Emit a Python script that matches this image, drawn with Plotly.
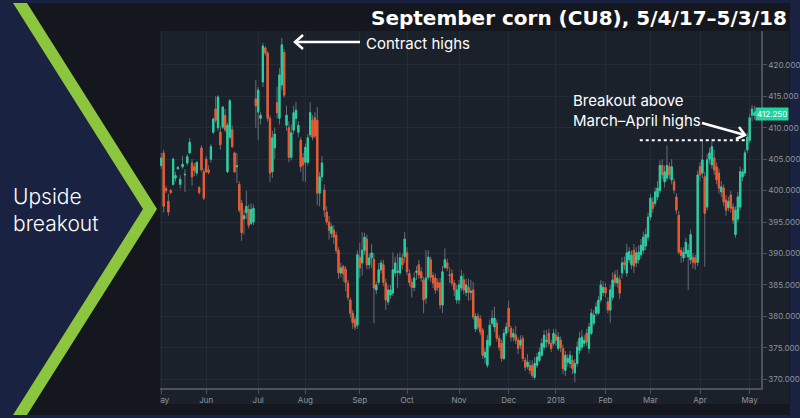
import plotly.graph_objects as go

# daily candles (open, high, low, close), September corn CU8, cents/bu
may_2017 = [
    (404.0, 406.0, 403.5, 405.2), (406.0, 406.5, 396.5, 397.5), (400.3, 400.8, 399.6, 400.0),
    (398.3, 399.5, 396.0, 396.6), (400.0, 400.3, 399.4, 399.7), (401.0, 405.3, 400.8, 405.0),
    (402.0, 403.0, 401.5, 402.4), (403.5, 403.9, 403.3, 403.7), (401.0, 402.5, 400.3, 401.8),
    (403.8, 405.5, 403.5, 404.2), (402.5, 403.4, 399.8, 402.6), (404.4, 405.8, 404.0, 405.4),
    (406.0, 408.4, 405.8, 407.7), (404.4, 405.0, 400.8, 402.2), (403.8, 404.4, 402.3, 403.2),
    (402.8, 404.7, 402.4, 404.5), (400.5, 400.7, 399.4, 399.7), (406.8, 407.2, 403.0, 403.3),
    (403.0, 403.5, 398.5, 398.8),
]
jun_2017 = [
    (405.0, 405.5, 402.8, 403.0), (403.3, 404.0, 402.6, 402.9), (405.0, 407.4, 404.5, 407.0),
    (409.3, 411.6, 409.0, 411.4), (413.0, 415.0, 410.8, 411.2), (410.0, 415.2, 409.5, 414.9),
    (409.3, 410.2, 406.5, 407.3), (410.1, 413.5, 409.8, 413.3), (412.0, 413.0, 409.3, 409.7),
    (403.0, 410.8, 402.8, 410.4), (408.5, 414.6, 408.2, 414.3), (409.7, 410.4, 406.8, 407.0),
    (406.0, 406.2, 402.8, 403.0), (403.8, 406.0, 401.2, 404.0), (401.0, 401.5, 396.5, 396.9),
    (398.0, 398.5, 392.0, 393.3), (395.5, 397.0, 393.0, 396.0), (396.5, 400.0, 395.5, 397.5),
    (397.0, 397.8, 394.0, 394.5), (394.8, 398.0, 394.5, 397.0), (395.0, 397.8, 394.5, 397.2),
    (414.6, 417.6, 410.0, 413.5),
]
jul_2017 = [
    (412.5, 416.5, 408.0, 416.0), (411.5, 412.5, 410.5, 412.0), (417.3, 423.5, 416.5, 423.0),
    (422.7, 423.0, 421.5, 421.9), (421.9, 422.2, 411.0, 411.5), (411.5, 412.0, 401.4, 402.8),
    (403.0, 409.5, 402.0, 408.4), (406.8, 410.0, 405.0, 409.0), (414.0, 416.5, 411.5, 412.4),
    (411.5, 419.5, 410.5, 418.4), (416.8, 424.3, 416.0, 423.2), (422.0, 422.5, 414.8, 415.2),
    (410.4, 413.5, 409.5, 412.0), (410.0, 411.0, 404.5, 405.3), (405.3, 410.5, 404.8, 409.2),
    (409.6, 413.5, 409.0, 412.4), (411.5, 414.1, 410.5, 412.8), (409.3, 411.0, 408.5, 410.4),
    (408.0, 408.5, 403.0, 403.8), (405.2, 406.0, 401.5, 404.1),
]
aug_2017 = [
    (404.5, 407.5, 401.4, 406.9), (404.5, 409.0, 404.0, 408.4), (408.9, 414.1, 408.5, 412.4),
    (411.2, 412.0, 408.0, 408.5), (411.6, 412.5, 408.3, 408.7), (411.2, 413.3, 397.7, 399.6),
    (399.6, 403.0, 397.5, 402.2), (402.2, 405.5, 401.5, 404.4), (400.1, 401.0, 395.8, 396.9),
    (396.6, 397.5, 394.5, 395.0), (395.0, 396.0, 392.2, 393.7), (393.2, 394.8, 392.5, 394.3),
    (393.7, 394.5, 391.5, 392.6), (392.9, 393.5, 390.0, 390.5), (390.5, 391.0, 386.0, 386.9),
    (386.9, 388.5, 386.2, 387.7), (387.9, 388.2, 385.5, 386.8), (387.5, 388.0, 384.0, 385.4),
    (385.3, 385.8, 382.5, 383.0), (382.6, 383.0, 379.8, 380.5), (380.5, 381.0, 378.0, 379.0),
    (379.5, 380.0, 377.8, 378.3), (378.6, 390.5, 378.0, 389.8),
]
sep_2017 = [
    (389.4, 391.7, 386.1, 387.7), (388.5, 393.4, 386.5, 390.5), (390.5, 393.3, 389.8, 392.6),
    (392.3, 393.0, 387.5, 388.2), (388.2, 390.0, 387.5, 389.3), (389.3, 391.5, 387.7, 390.1),
    (389.1, 390.1, 378.9, 384.5), (384.2, 385.5, 383.5, 385.0), (385.4, 388.5, 385.0, 387.4),
    (387.4, 389.0, 386.8, 388.5), (388.2, 389.0, 384.8, 385.4), (385.3, 386.0, 381.0, 382.6),
    (382.3, 385.0, 381.8, 384.2), (383.4, 385.0, 382.8, 384.2), (383.7, 390.2, 383.2, 387.4),
    (386.9, 389.5, 386.3, 388.5), (387.0, 390.0, 384.5, 387.2), (386.9, 390.2, 386.5, 389.3),
    (389.3, 390.0, 387.5, 388.2), (389.5, 393.4, 388.5, 392.3),
]
oct_2017 = [
    (390.1, 391.0, 386.5, 387.1), (386.8, 387.5, 384.8, 385.4), (385.4, 386.0, 383.0, 384.6),
    (384.6, 387.0, 384.0, 386.1), (387.0, 388.0, 385.8, 387.2), (388.2, 389.0, 386.0, 386.6),
    (387.1, 387.8, 385.5, 386.1), (385.8, 386.3, 380.5, 382.6), (382.9, 390.5, 382.0, 386.1),
    (386.2, 390.5, 385.8, 389.4), (389.0, 389.5, 385.5, 386.2), (386.5, 387.0, 384.5, 385.3),
    (386.1, 386.8, 383.6, 384.2), (385.4, 386.0, 384.0, 384.6), (385.3, 386.1, 381.2, 381.8),
    (381.8, 388.0, 380.5, 387.1), (387.8, 390.8, 387.5, 389.0), (388.5, 389.2, 387.2, 387.7),
    (386.6, 387.8, 385.3, 386.5), (386.8, 387.5, 384.8, 385.3), (385.3, 385.8, 383.2, 384.2),
    (382.6, 385.0, 382.0, 384.2),
]
nov_2017 = [
    (382.6, 385.8, 382.0, 385.0), (384.5, 387.4, 384.0, 386.4), (385.8, 386.8, 383.5, 384.2),
    (383.8, 386.0, 383.2, 385.0), (384.6, 386.0, 382.5, 383.8), (383.8, 385.8, 382.6, 384.0),
    (384.2, 385.5, 379.5, 379.9), (378.0, 380.5, 377.5, 380.0), (380.0, 380.5, 377.8, 378.3),
    (379.6, 380.2, 377.0, 377.5), (377.8, 378.2, 373.2, 373.8), (373.5, 375.0, 372.5, 374.3),
    (372.2, 377.0, 371.8, 376.2), (375.4, 379.5, 375.0, 378.6), (378.9, 381.0, 378.5, 379.7),
    (378.3, 381.5, 377.5, 379.7), (378.9, 379.5, 376.0, 376.5), (376.5, 377.0, 374.5, 375.1),
    (375.7, 376.3, 372.8, 373.3), (373.3, 378.0, 373.0, 377.3), (377.3, 379.0, 376.8, 378.3),
]
dec_2017 = [
    (381.3, 382.5, 377.5, 378.3), (378.1, 378.5, 376.0, 376.7), (376.7, 378.0, 376.0, 377.3),
    (377.0, 378.5, 375.6, 376.2), (376.2, 376.7, 374.0, 374.9), (375.4, 377.0, 374.8, 376.2),
    (376.5, 377.0, 372.8, 373.3), (373.0, 373.5, 371.3, 371.9), (372.0, 374.0, 371.6, 372.7),
    (372.2, 373.0, 370.8, 371.4), (372.2, 373.0, 370.2, 370.6), (370.3, 373.5, 369.9, 372.5),
    (372.2, 374.2, 371.8, 373.5), (373.0, 375.0, 372.7, 374.3), (373.8, 376.5, 373.5, 375.7),
    (375.1, 377.8, 374.6, 377.0), (376.0, 377.8, 375.0, 376.2), (377.3, 378.0, 375.2, 375.7),
    (375.7, 376.3, 374.3, 374.9), (375.7, 378.0, 375.3, 377.3),
]
jan_2018 = [
    (377.0, 378.0, 375.3, 376.2), (374.9, 377.5, 374.5, 376.7), (376.2, 376.8, 374.3, 375.0),
    (374.9, 375.5, 370.8, 371.7), (371.4, 374.5, 370.5, 373.8), (372.7, 374.0, 372.0, 373.3),
    (372.5, 374.5, 371.8, 373.8), (373.0, 373.8, 370.8, 371.7), (371.0, 373.2, 369.5, 372.5),
    (372.5, 376.0, 372.0, 375.1), (374.6, 377.5, 374.0, 376.5), (375.1, 377.8, 374.6, 376.7),
    (375.7, 377.0, 375.2, 376.2), (377.3, 378.0, 375.3, 375.9), (374.9, 379.0, 374.1, 378.3),
    (377.3, 381.2, 377.0, 380.5), (378.9, 381.0, 378.5, 380.2), (380.5, 382.3, 380.0, 381.5),
    (380.5, 383.2, 380.2, 382.6), (382.6, 385.8, 382.2, 385.0), (383.8, 385.6, 383.2, 384.6),
]
feb_2018 = [
    (384.6, 385.3, 383.0, 383.7), (382.3, 383.0, 380.5, 381.0), (381.0, 385.0, 379.0, 384.2),
    (383.0, 387.0, 382.5, 385.8), (386.6, 387.3, 384.8, 385.4), (385.3, 387.4, 384.6, 386.1),
    (385.8, 386.5, 382.8, 383.7), (386.9, 389.4, 386.0, 388.5), (388.6, 389.5, 387.4, 388.2),
    (386.9, 391.5, 386.3, 390.1), (389.0, 391.0, 388.5, 390.3), (388.2, 390.5, 387.5, 389.7),
    (390.5, 391.5, 386.9, 388.0), (388.5, 391.0, 387.8, 390.1), (389.0, 391.3, 388.4, 390.2),
    (389.8, 392.3, 389.2, 391.3), (390.5, 393.5, 390.0, 392.6), (391.2, 394.0, 390.5, 393.0),
    (392.6, 396.5, 392.0, 395.8),
]
mar_2018 = [
    (395.8, 399.5, 395.3, 398.8), (398.2, 399.0, 396.5, 397.2), (398.0, 400.5, 397.5, 399.8),
    (399.0, 401.5, 398.5, 400.4), (400.0, 404.8, 399.5, 404.0), (404.0, 405.0, 401.8, 402.5),
    (401.4, 404.0, 400.5, 403.0), (402.0, 407.2, 401.5, 404.0), (403.8, 404.5, 401.8, 402.5),
    (401.7, 405.0, 401.0, 403.8), (401.4, 402.0, 399.5, 400.1), (399.0, 399.6, 396.3, 396.9),
    (396.1, 396.8, 389.8, 390.2), (390.5, 391.0, 388.5, 389.7), (389.3, 391.0, 388.7, 390.2),
    (390.0, 392.5, 389.3, 391.8), (389.5, 391.5, 384.2, 390.5), (389.0, 393.8, 388.3, 393.0),
    (389.4, 390.1, 387.6, 388.6), (389.3, 389.8, 387.4, 388.5), (388.6, 403.2, 388.0, 402.5),
]
apr_2018 = [
    (403.8, 404.5, 401.5, 402.5), (402.8, 408.0, 402.0, 404.9), (402.2, 403.0, 387.9, 396.4),
    (397.4, 405.8, 396.8, 404.9), (405.0, 406.8, 404.3, 406.0), (404.1, 408.2, 403.5, 407.0),
    (405.2, 406.5, 402.5, 403.3), (403.8, 404.5, 401.0, 401.7), (402.8, 403.5, 399.5, 400.4),
    (399.8, 401.5, 399.0, 400.6), (400.4, 401.0, 397.5, 398.2), (398.5, 399.3, 396.0, 396.9),
    (397.3, 399.0, 396.7, 398.3), (399.3, 400.0, 396.5, 397.2), (397.4, 398.0, 394.7, 395.3),
    (393.0, 397.5, 392.5, 396.9), (395.5, 399.8, 395.0, 399.0), (397.4, 403.8, 396.8, 403.0),
    (402.2, 403.5, 401.5, 403.0), (402.8, 406.5, 402.3, 406.0), (406.5, 409.2, 406.0, 408.5),
]
may_2018 = [
    (408.0, 412.2, 407.6, 411.6), (412.0, 413.6, 411.0, 413.0), (412.0, 413.5, 411.3, 412.25),
]

months = [may_2017, jun_2017, jul_2017, aug_2017, sep_2017, oct_2017, nov_2017,
          dec_2017, jan_2018, feb_2018, mar_2018, apr_2018, may_2018]
month_labels = ['May', 'Jun', 'Jul', 'Aug', 'Sep', 'Oct', 'Nov', 'Dec', '2018',
                'Feb', 'Mar', 'Apr', 'May']
y_ticks = [370, 375, 380, 385, 390, 395, 400, 405, 410, 415, 420]
breakout_level = 408.0
last_price = 412.25

candles = [c for m in months for c in m]
opens = [c[0] for c in candles]
highs = [c[1] for c in candles]
lows = [c[2] for c in candles]
closes = [c[3] for c in candles]
xs = list(range(len(candles)))
body_hi = [max(o, c) for o, c in zip(opens, closes)]
body_lo = [min(o, c) for o, c in zip(opens, closes)]

tick_pos = []
n = 0
for m in months:
    tick_pos.append(n)
    n += len(m)

NAVY = '#1a2241'
DARK = '#14171e'
PANEL = '#1a212b'
LIME = '#8cc63f'
UP = '#22d3a0'
DOWN = '#f0582b'
WICK = '#676d76'
AXIS = '#4d535c'
TXT = '#8e949c'

W, H = 800, 418
ML, MR, MT, MB = 160, 39, 31, 30
PW, PH = W - ML - MR, H - MT - MB


def px(x):
    return (x - ML) / PW


def py(y):
    return (H - MB - y) / PH


def path(points):
    return 'M ' + ' L '.join(f'{px(a):.5f},{py(b):.5f}' for a, b in points) + ' Z'


def openpath(points):
    return 'M ' + ' L '.join(f'{px(a):.5f},{py(b):.5f}' for a, b in points)


fig = go.Figure()

# grey wicks
fig.add_trace(go.Candlestick(
    x=xs, open=opens, high=highs, low=lows, close=closes,
    increasing=dict(line=dict(color=WICK, width=1), fillcolor=WICK),
    decreasing=dict(line=dict(color=WICK, width=1), fillcolor=WICK),
    whiskerwidth=0, hoverinfo='skip', showlegend=False
))
# coloured bodies
fig.add_trace(go.Candlestick(
    x=xs, open=opens, high=body_hi, low=body_lo, close=closes,
    increasing=dict(line=dict(color=UP, width=1), fillcolor=UP),
    decreasing=dict(line=dict(color=DOWN, width=1), fillcolor=DOWN),
    whiskerwidth=0, showlegend=False
))

shapes = [
    dict(type='rect', xref='paper', yref='paper', x0=px(0), x1=px(790), y0=py(415), y1=py(3),
         fillcolor=DARK, line_width=0, layer='below'),
    dict(type='path', xref='paper', yref='paper', layer='below', fillcolor=NAVY, line_width=0,
         path=path([(0, 3), (13, 3), (143, 209), (13, 415), (0, 415)])),
    dict(type='path', xref='paper', yref='paper', layer='below', fillcolor=LIME, line_width=0,
         path=path([(13, 3), (27, 3), (157, 209), (27, 415), (13, 415), (143, 209)])),
    dict(type='rect', xref='paper', yref='paper', x0=px(160), x1=px(789), y0=py(404), y1=py(31),
         fillcolor=PANEL, line_width=0, layer='below'),
    # hide the left half of the first month label
    dict(type='rect', xref='paper', yref='paper', x0=px(146), x1=px(160), y0=py(404), y1=py(389),
         fillcolor=DARK, line_width=0, layer='above'),
    # contract highs arrow
    dict(type='path', xref='paper', yref='paper', layer='above', line=dict(color='white', width=2.5),
         path=openpath([(360, 42), (295, 42)])),
    dict(type='path', xref='paper', yref='paper', layer='above', line=dict(color='white', width=2.5),
         path=openpath([(303, 35), (295, 42), (303, 49)])),
    # breakout arrow
    dict(type='path', xref='paper', yref='paper', layer='above', line=dict(color='white', width=2.5),
         path=openpath([(702, 123), (745, 135)])),
    dict(type='path', xref='paper', yref='paper', layer='above', line=dict(color='white', width=2.5),
         path=openpath([(739, 127), (745, 135), (736, 139)])),
    # March-April highs
    dict(type='line', xref='x', yref='y', x0=202.5, x1=247.5, y0=breakout_level, y1=breakout_level,
         line=dict(color='white', width=2, dash='dot'), layer='above'),
    # price tag pointer
    dict(type='path', xref='paper', yref='y', fillcolor=UP, line_width=0, layer='above',
         path=f'M {px(758):.5f},{last_price + 0.75} L {px(752):.5f},{last_price} '
              f'L {px(758):.5f},{last_price - 0.75} Z'),
]

annotations = [
    dict(text='<b>September corn (CU8), 5/4/17–5/3/18</b>', xref='paper', yref='paper',
         x=px(789), y=py(18), xanchor='right', yanchor='middle', showarrow=False,
         font=dict(family='DejaVu Sans', size=20, color='white')),
    dict(text='Upside<br>breakout', xref='paper', yref='paper', x=px(11), y=py(210),
         xanchor='left', yanchor='middle', align='left', showarrow=False,
         font=dict(family='Inter', size=21, color='white', weight=300)),
    dict(text='Contract highs', xref='paper', yref='paper', x=px(364), y=py(43),
         xanchor='left', yanchor='middle', showarrow=False,
         font=dict(family='Inter', size=15, color='white')),
    dict(text='Breakout above<br>March–April highs', xref='paper', yref='paper', x=px(571), y=py(110),
         xanchor='left', yanchor='middle', align='left', showarrow=False,
         font=dict(family='Inter', size=15, color='white')),
    dict(text=f'{last_price:.3f}', xref='paper', yref='y', x=px(772), y=last_price,
         xanchor='center', yanchor='middle', showarrow=False, bgcolor=UP, borderpad=1,
         font=dict(family='Inter', size=8, color='white')),
]

fig.update_layout(
    width=W, height=H,
    margin=dict(l=ML, r=MR, t=MT, b=MB),
    paper_bgcolor=NAVY,
    plot_bgcolor=PANEL,
    boxgap=0.25,
    shapes=shapes,
    annotations=annotations,
    showlegend=False,
    xaxis=dict(
        range=[-0.55, 253.8], rangeslider=dict(visible=False), automargin=False,
        tickvals=tick_pos, ticktext=month_labels,
        showgrid=True, gridcolor='#232b36', gridwidth=1, zeroline=False,
        showline=True, linecolor=AXIS, linewidth=1.5,
        ticks='outside', ticklen=4, tickcolor=AXIS,
        tickfont=dict(family='Inter', size=8, color=TXT),
    ),
    yaxis=dict(
        side='right', range=[368.6, 425.4], automargin=False,
        tickvals=y_ticks, tickformat='.3f',
        showgrid=True, gridcolor='#232b36', gridwidth=1, zeroline=False,
        showline=True, linecolor=AXIS, linewidth=1.5,
        ticks='outside', ticklen=4, tickcolor=AXIS,
        tickfont=dict(family='Inter', size=8, color=TXT),
    ),
)

fig.write_html('out.html', config={'displayModeBar': False},
               post_script="document.body.style.margin = '0';")
